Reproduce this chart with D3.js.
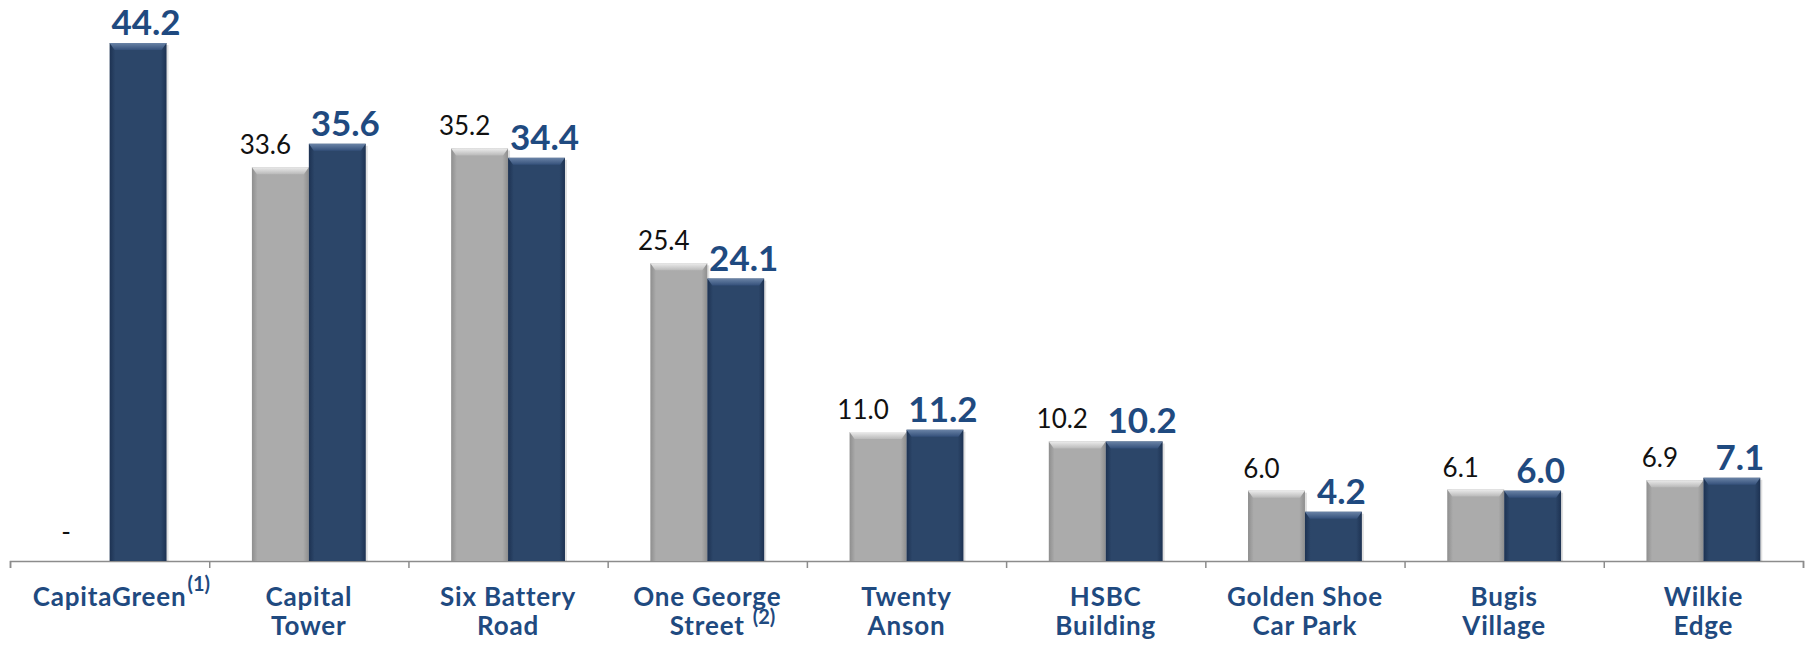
<!DOCTYPE html>
<html>
<head>
<meta charset="utf-8">
<script src="https://cdn.jsdelivr.net/npm/d3@7"></script>
<style>
  body { margin: 0; background: #fff; }
  text { font-family: Lato, "Open Sans", sans-serif; }
</style>
</head>
<body>
<div id="chart"></div>
<script>
// data
var properties = ["CapitaGreen", "Capital Tower", "Six Battery Road", "One George Street",
                  "Twenty Anson", "HSBC Building", "Golden Shoe Car Park", "Bugis Village", "Wilkie Edge"];
var labelLines = [["CapitaGreen"], ["Capital", "Tower"], ["Six Battery", "Road"], ["One George", "Street"],
                  ["Twenty", "Anson"], ["HSBC", "Building"], ["Golden Shoe", "Car Park"], ["Bugis", "Village"], ["Wilkie", "Edge"]];
var footnotes = ["(1)", "", "", "(2)", "", "", "", "", ""];
var prevValues = [null, 33.6, 35.2, 25.4, 11.0, 10.2, 6.0, 6.1, 6.9];
var currValues = [44.2, 35.6, 34.4, 24.1, 11.2, 10.2, 4.2, 6.0, 7.1];

var width = 1811, height = 649;
var axisY = 561;

var svg = d3.select("#chart")
  .append("svg")
    .attr("width", width)
    .attr("height", height);

var defs = svg.append("defs");

function sideGradient(id, edge, mid) {
  var g = defs.append("linearGradient").attr("id", id)
    .attr("x1", "0").attr("x2", "1").attr("y1", "0").attr("y2", "0");
  g.append("stop").attr("offset", "0").attr("stop-color", edge);
  g.append("stop").attr("offset", "0.1").attr("stop-color", mid);
  g.append("stop").attr("offset", "0.9").attr("stop-color", mid);
  g.append("stop").attr("offset", "1").attr("stop-color", edge);
}
function topGradient(id, light, dark) {
  var g = defs.append("linearGradient").attr("id", id)
    .attr("x1", "0").attr("x2", "0").attr("y1", "0").attr("y2", "1");
  g.append("stop").attr("offset", "0").attr("stop-color", light);
  g.append("stop").attr("offset", "1").attr("stop-color", dark);
}
sideGradient("graySide", "#8e8e8e", "#ababab");
sideGradient("navySide", "#1d3252", "#2c4669");
topGradient("grayTop", "#ececec", "#b9b9b9");
topGradient("navyTop", "#6a83a6", "#34507a");

var x = d3.scaleBand()
  .domain(properties)
  .range([10, 1803])
  .padding(0);

var sub = d3.scaleBand()
  .domain(["prev", "curr"])
  .range([0, x.bandwidth()])
  .paddingInner(0)
  .paddingOuter(0.75);

var y = d3.scaleLinear()
  .domain([0, 44.2])
  .range([axisY, 43]);

// axis with ticks on the band boundaries
var edge = d3.scaleLinear().domain([0, properties.length]).range(x.range());
svg.append("g")
  .attr("transform", "translate(0," + axisY + ")")
  .call(d3.axisBottom(edge).ticks(properties.length).tickSize(7).tickFormat(""))
  .call(g => g.selectAll("path, line").attr("stroke", "#8c8c8c").attr("stroke-width", 1.5));

var rows = properties.map(function(p, i) {
  return {name: p, prev: prevValues[i], curr: currValues[i]};
});

function drawBar(g, x0, v, kind) {
  var w = sub.bandwidth();
  var top = y(v), h = axisY - top;
  var bar = g.append("g").attr("transform", "translate(" + x0 + "," + top + ")");
  bar.append("rect")
    .attr("x", 2).attr("y", 2).attr("width", w).attr("height", h - 2)
    .attr("fill", "#000").attr("opacity", 0.12);
  bar.append("rect")
    .attr("width", w).attr("height", h)
    .attr("fill", "url(#" + kind + "Side)");
  var b = Math.min(7, h / 2);
  bar.append("path")
    .attr("d", "M0,0H" + w + "L" + (w - 5) + "," + b + "H5Z")
    .attr("fill", "url(#" + kind + "Top)");
}

var groups = svg.append("g")
  .selectAll("g")
  .data(rows)
  .enter()
  .append("g")
    .attr("transform", d => "translate(" + x(d.name) + ",0)");

groups.each(function(d) {
  var g = d3.select(this);
  if (d.prev != null) drawBar(g, sub("prev"), d.prev, "gray");
  drawBar(g, sub("curr"), d.curr, "navy");

  // value labels
  g.append("text")
    .attr("x", sub("prev") + sub.bandwidth() / 2 - 15)
    .attr("y", d.prev != null ? y(d.prev) - 13 : axisY - 20)
    .attr("text-anchor", "middle")
    .attr("font-size", "26px")
    .attr("fill", "#111")
    .text(d.prev != null ? d.prev.toFixed(1) : "-");

  g.append("text")
    .attr("x", sub("curr") + sub.bandwidth() / 2 + 8)
    .attr("y", y(d.curr) - 8)
    .attr("text-anchor", "middle")
    .attr("font-size", "35px")
    .attr("font-weight", "bold")
    .attr("fill", "#1f4a80")
    .text(d.curr.toFixed(1));
});

// category labels
groups.each(function(d, i) {
  var g = d3.select(this);
  var cx = x.bandwidth() / 2;
  var lines = labelLines[i];
  lines.forEach(function(line, j) {
    var t = g.append("text")
      .attr("x", cx)
      .attr("y", 606 + j * 29)
      .attr("text-anchor", "middle")
      .attr("font-size", "26px")
      .attr("font-weight", "bold")
      .attr("letter-spacing", "0.8px")
      .attr("fill", "#1f4a80")
      .text(line);
    if (j === lines.length - 1 && footnotes[i]) {
      var tw = t.node().getComputedTextLength();
      var two = lines.length > 1;
      g.append("text")
        .attr("x", cx + tw / 2 + (two ? 8 : 1))
        .attr("y", 606 + j * 29 - (two ? 11 : 15))
        .attr("font-size", "20px")
        .attr("font-weight", "bold")
        .attr("fill", "#1f4a80")
        .text(footnotes[i]);
    }
  });
});
</script>
</body>
</html>
